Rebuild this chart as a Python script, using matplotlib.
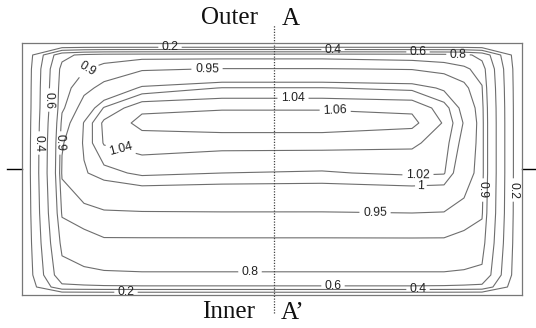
import matplotlib
matplotlib.use("Agg")
import matplotlib.pyplot as plt
import numpy as np

# node positions of the section grid (frame units, y counted downward from Outer)
x_nodes = [0, 40, 62, 82, 120, 200, 300, 390, 422, 442, 460, 500]
y_nodes = [0, 2, 12, 26, 45, 65, 80, 100, 130, 170, 200, 232, 244, 252]

# ratio values at the nodes, one row per y node
z_y0   = [0, 0, 0, 0, 0, 0, 0, 0, 0, 0, 0, 0]
z_y2   = [0, 0, 0, 0, 0, 0, 0, 0, 0, 0, 0, 0]
z_y12  = [0, 0.75, 0.84, 0.87, 0.88, 0.88, 0.88, 0.87, 0.86, 0.84, 0.75, 0]
z_y26  = [0, 0.85, 0.895, 0.92, 0.945, 0.952, 0.952, 0.948, 0.935, 0.915, 0.87, 0]
z_y45  = [0, 0.875, 0.935, 0.965, 1.005, 1.021, 1.021, 1.015, 0.995, 0.965, 0.905, 0]
z_y65  = [0, 0.89, 0.975, 1.022, 1.056, 1.058, 1.058, 1.056, 1.03, 0.99, 0.925, 0]
z_y80  = [0, 0.92, 1.002, 1.045, 1.066, 1.072, 1.072, 1.066, 1.038, 0.998, 0.93, 0]
z_y100 = [0, 0.945, 1.004, 1.042, 1.05, 1.047, 1.047, 1.044, 1.03, 0.99, 0.93, 0]
z_y130 = [0, 0.957, 0.997, 1.012, 1.025, 1.02, 1.018, 1.024, 1.022, 0.975, 0.93, 0]
z_y170 = [0, 0.91, 0.935, 0.945, 0.947, 0.948, 0.948, 0.95, 0.948, 0.935, 0.91, 0]
z_y200 = [0, 0.84, 0.87, 0.89, 0.89, 0.89, 0.89, 0.89, 0.89, 0.875, 0.86, 0]
z_y232 = [0, 0.74, 0.775, 0.785, 0.79, 0.79, 0.79, 0.79, 0.79, 0.785, 0.77, 0]
z_y244 = [0, 0.55, 0.565, 0.575, 0.58, 0.58, 0.58, 0.58, 0.575, 0.565, 0.55, 0]
z_y252 = [0, 0, 0, 0, 0, 0, 0, 0, 0, 0, 0, 0]

levels = [0.2, 0.4, 0.6, 0.8, 0.9, 0.95, 1.0, 1.02, 1.04, 1.06]

# where the contour labels sit, per level
label_spots = {
    0.2: [(148, 4), (490, 147), (104, 248)],
    0.4: [(311, 7), (16, 100), (396, 246)],
    0.6: [(396, 9), (26, 57), (311, 242)],
    0.8: [(436, 12), (228, 229)],
    0.9: [(66, 27), (39, 100), (460, 147)],
    0.95: [(185, 25), (353, 172)],
    1.0: [(399, 145)],
    1.02: [(396, 133)],
    1.04: [(271, 57), (98, 109)],
    1.06: [(313, 72)],
}
section_x = 252

Z = np.array([z_y0, z_y2, z_y12, z_y26, z_y45, z_y65, z_y80, z_y100, z_y130,
              z_y170, z_y200, z_y232, z_y244, z_y252])

fig = plt.figure(figsize=(5.36, 3.28), dpi=100)
ax = fig.add_axes([22/536, 1 - 295/328, 500/536, 252/328])

for lvl in levels:
    cs = ax.contour(x_nodes, y_nodes, Z, levels=[lvl], colors="#6e6e6e",
                    linewidths=0.8)
    texts = ax.clabel(cs, manual=label_spots[lvl], inline=True,
                      inline_spacing=2, fontsize=8.8, colors="#222222",
                      fmt=lambda v: f"{v:g}")
    for t in texts:
        t.set_fontfamily("Liberation Sans")
        t.set_clip_on(False)
        # labels on the right-hand side read downward
        if t.get_position()[0] > 450 and abs(abs(t.get_rotation() % 180) - 90) < 20:
            t.set_rotation(270)

ax.set_xlim(0, 500)
ax.set_ylim(252, 0)
ax.set_xticks([]); ax.set_yticks([])
for s in ax.spines.values():
    s.set_color("#777777"); s.set_linewidth(0.9)

# section line A-A'
ax.axvline(section_x, ymin=-0.07, ymax=1.07, color="#444444", lw=0.9,
           ls=(0, (1, 1.2)), clip_on=False)
ax.plot([-0.03, 0], [0.5, 0.5], color="black", lw=1, transform=ax.transAxes,
        clip_on=False)
ax.plot([1, 1.03], [0.5, 0.5], color="black", lw=1, transform=ax.transAxes,
        clip_on=False)

serif = dict(family="Liberation Serif", fontsize=18, color="#111111")
fig.text(229/536, 1 - 18/328, "Outer", ha="center", va="center", **serif)
fig.text(291/536, 1 - 19/328, "A", ha="center", va="center", **serif)
fig.text(229/536, 1 - 312/328, "Inner", ha="center", va="center", **serif)
fig.text(293/536, 1 - 313/328, "A\u2019", ha="center", va="center", **serif)

fig.savefig("out.png", dpi=100)
